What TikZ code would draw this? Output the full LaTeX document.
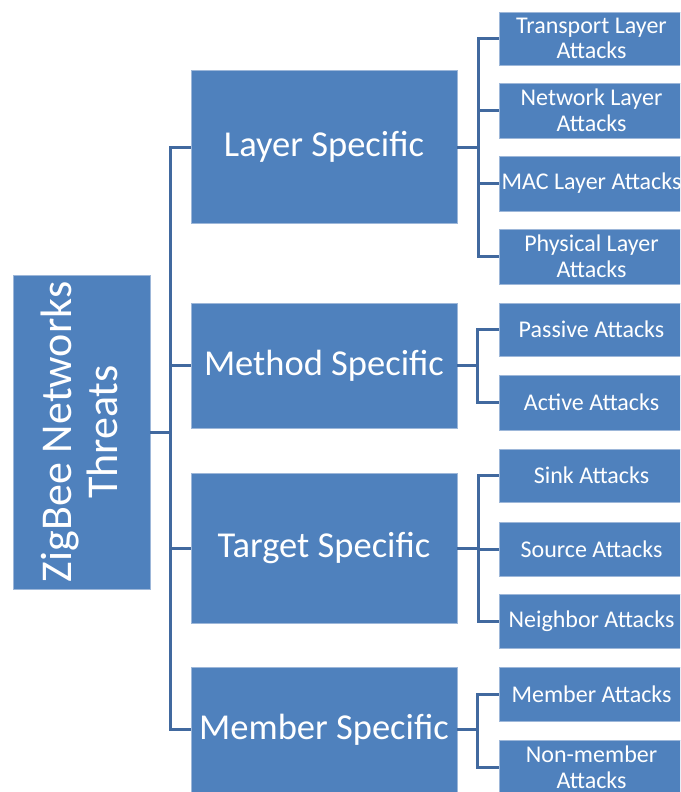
\documentclass[tikz,border=0pt]{standalone}
\usepackage{fontspec}
\setmainfont{Carlito}
\definecolor{boxblue}{HTML}{4F81BD}
\definecolor{boxedge}{HTML}{9DB7D9}
\definecolor{linkblue}{HTML}{41699F}
\tikzset{
  x=1pt, y=-1pt,
  base/.style={rectangle, fill=boxblue, draw=boxedge, line width=0.8pt, text=white, inner sep=0pt, align=center, anchor=center},
  rootbox/.style={base},
  midbox/.style={base, minimum width=266pt, font=\fontsize{36.5}{40}\selectfont},
  leafbox/.style={base, minimum width=185pt, font=\fontsize{24}{25.5}\selectfont},
  link/.style={draw=linkblue, line width=3pt}
}
\begin{document}
\begin{tikzpicture}
\useasboundingbox (0,0) rectangle (680,792);
\clip (0,0) rectangle (680,792);
% root
\node[rootbox, minimum width=137pt, minimum height=314pt] (root) at (81.5,432) {};
\node[text=white, rotate=90, align=center, font=\fontsize{44}{46}\selectfont] (roottext) at (79,432) {ZigBee Networks\\Threats};
% mid boxes
\node[midbox, minimum height=153pt] (L) at (324,147) {Layer Specific};
\node[midbox, minimum height=125pt] (M) at (324,365.5) {Method Specific};
\node[midbox, minimum height=150pt] (T) at (324,548) {Target Specific};
\node[midbox, minimum height=125pt] (B) at (324,729.5) {Member Specific};
% leaves
\node[leafbox, minimum height=53pt] (L1) at (591.5,38.5) {Transport Layer\\Attacks};
\node[leafbox, minimum height=55pt] (L2) at (591.5,110.5) {Network Layer\\Attacks};
\node[leafbox, minimum height=55pt] (L3) at (591.5,183.5) {MAC Layer Attacks};
\node[leafbox, minimum height=55pt] (L4) at (591.5,256.5) {Physical Layer\\Attacks};
\node[leafbox, minimum height=53pt] (M1) at (591.5,329.5) {Passive Attacks};
\node[leafbox, minimum height=55pt] (M2) at (591.5,402.5) {Active Attacks};
\node[leafbox, minimum height=53pt] (T1) at (591.5,475.5) {Sink Attacks};
\node[leafbox, minimum height=54pt] (T2) at (591.5,549) {Source Attacks};
\node[leafbox, minimum height=54pt] (T3) at (591.5,621) {Neighbor Attacks};
\node[leafbox, minimum height=54pt] (B1) at (591.5,694) {Member Attacks};
\node[leafbox, minimum height=54pt] (B2) at (591.5,767) {Non-member\\Attacks};
% main trunk
\coordinate (rj) at (170,432);
\draw[link] (root.east) -- (rj);
\draw[link] (rj) |- (L.west);
\draw[link] (rj) |- (M.west);
\draw[link] (rj) |- (T.west);
\draw[link] (rj) |- (B.west);
% sub trunks
\coordinate (lj) at (478,147);
\draw[link] (L.east) -- (lj);
\foreach \c in {L1,L2,L3,L4} \draw[link] (lj) |- (\c.west);
\coordinate (mj) at (477,365.5);
\draw[link] (M.east) -- (mj);
\foreach \c in {M1,M2} \draw[link] (mj) |- (\c.west);
\coordinate (tj) at (478,548);
\draw[link] (T.east) -- (tj);
\foreach \c in {T1,T2,T3} \draw[link] (tj) |- (\c.west);
\coordinate (bj) at (477,729.5);
\draw[link] (B.east) -- (bj);
\foreach \c in {B1,B2} \draw[link] (bj) |- (\c.west);
\end{tikzpicture}
\end{document}
